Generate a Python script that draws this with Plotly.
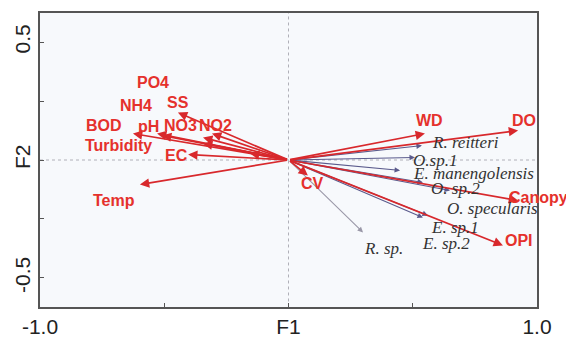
import plotly.graph_objects as go

# Environmental variables (arrow tips, F1/F2 loadings)
env_names = ["BOD", "pH", "NH4", "NO3", "NO2", "Turbidity", "PO4", "SS", "EC", "Temp",
             "WD", "DO", "Canopy", "OPI", "CV"]
env_f1 = [-0.626, -0.509, -0.529, -0.344, -0.308, -0.344, -0.155, -0.445, -0.404, -0.598,
          0.549, 0.924, 0.924, 0.863, 0.078]
env_f2 = [0.112, 0.104, 0.112, 0.095, 0.112, 0.070, 0.028, 0.201, 0.023, -0.104,
          0.112, 0.125, -0.172, -0.362, -0.066]

# Species (arrow tips)
sp_names = ["R. reitteri", "O.sp.1", "E. manengolensis", "O. sp.2", "O. specularis",
            "E. sp.1", "E. sp.2", "R. sp."]
sp_f1 = [0.537, 0.509, 0.449, 0.541, 0.650, 0.561, 0.541, 0.300]
sp_f2 = [0.061, 0.011, -0.044, -0.095, -0.129, -0.235, -0.244, -0.307]

# Label placement (data coordinates, plus optional pixel shift)
env_label_pos = {
    "BOD": (-0.742, 0.146, 0), "pH": (-0.565, 0.142, 0), "NH4": (-0.614, 0.231, 0),
    "PO4": (-0.545, 0.328, 0), "SS": (-0.445, 0.244, 0), "NO3": (-0.433, 0.146, 0),
    "NO2": (-0.292, 0.146, 0), "Turbidity": (-0.686, 0.061, 0), "EC": (-0.449, 0.019, 0),
    "Temp": (-0.702, -0.172, 0), "WD": (0.569, 0.167, 0), "DO": (0.948, 0.167, 0),
    "Canopy": (1.0, -0.159, 1), "OPI": (0.928, -0.341, 0), "CV": (0.095, -0.100, 0),
}
sp_label_pos = {
    "R. reitteri": (0.714, 0.074), "O.sp.1": (0.590, -0.002),
    "E. manengolensis": (0.746, -0.057), "O. sp.2": (0.670, -0.121),
    "O. specularis": (0.819, -0.206), "E. sp.1": (0.670, -0.286),
    "E. sp.2": (0.634, -0.354), "R. sp.": (0.384, -0.375),
}

x_ticks = [-1.0, -0.5, 0.0, 0.5, 1.0]
x_ticktext = ["-1.0", "", "F1", "", "1.0"]
y_ticks = [-0.5, -0.25, 0.0, 0.25, 0.5]
y_ticktext = ["-0.5", "", "F2", "", "0.5"]

RED = "#d8282c"
NAVY = "#5a5a8c"

fig = go.Figure()
fig.add_trace(go.Scatter(x=env_f1 + sp_f1, y=env_f2 + sp_f2, mode="markers",
                         marker=dict(size=1, opacity=0), hoverinfo="skip", showlegend=False))

annotations = []
for n, x, y in zip(sp_names, sp_f1, sp_f2):
    col = "#9a98a8" if n == "R. sp." else NAVY
    annotations.append(dict(x=x, y=y, ax=0, ay=0, xref="x", yref="y", axref="x", ayref="y",
                            showarrow=True, arrowhead=2, arrowsize=1.0, arrowwidth=1.1,
                            arrowcolor=col, text=""))
for n, x, y in zip(env_names, env_f1, env_f2):
    annotations.append(dict(x=x, y=y, ax=0, ay=0, xref="x", yref="y", axref="x", ayref="y",
                            showarrow=True, arrowhead=2, arrowsize=1.1, arrowwidth=1.7,
                            arrowcolor=RED, text=""))
for n in env_names:
    lx, ly, sx = env_label_pos[n]
    annotations.append(dict(x=lx, y=ly, xshift=sx, xref="x", yref="y", showarrow=False, text=n,
                            font=dict(family="Liberation Sans", size=16, color="#e5312c",
                                      weight="bold")))
for n in sp_names:
    lx, ly = sp_label_pos[n]
    annotations.append(dict(x=lx, y=ly, xref="x", yref="y", showarrow=False, text=n,
                            font=dict(family="Liberation Serif", size=17, color="#333333",
                                      style="italic")))

fig.update_layout(
    width=566, height=336,
    margin=dict(l=32, r=37, t=5, b=37),
    paper_bgcolor="white", plot_bgcolor="#f7f9fc",
    showlegend=False,
    annotations=annotations,
    shapes=[
        dict(type="line", xref="x", yref="y", x0=0, x1=0, y0=-0.625, y1=0.625,
             line=dict(color="#b0b0b8", width=1, dash="dot"), layer="below"),
        dict(type="line", xref="x", yref="y", x0=-1, x1=1, y0=0, y1=0,
             line=dict(color="#b0b0b8", width=1, dash="dot"), layer="below"),
    ],
)
fig.update_xaxes(range=[-1, 1], tickvals=x_ticks, ticktext=x_ticktext, automargin=False,
                 showgrid=False, zeroline=False, showline=True, mirror=True,
                 linecolor="#555555", linewidth=2, ticks="inside", ticklen=4,
                 tickcolor="#555555", tickfont=dict(family="Liberation Sans", size=21, color="#222"))
fig.update_yaxes(range=[-0.623, 0.623], tickvals=y_ticks, ticktext=y_ticktext, automargin=False,
                 tickangle=-90, showgrid=False, zeroline=False, showline=True, mirror=True,
                 linecolor="#555555", linewidth=2, ticks="inside", ticklen=4,
                 tickcolor="#555555", tickfont=dict(family="Liberation Sans", size=21, color="#222"))

fig.write_html("out.html")
